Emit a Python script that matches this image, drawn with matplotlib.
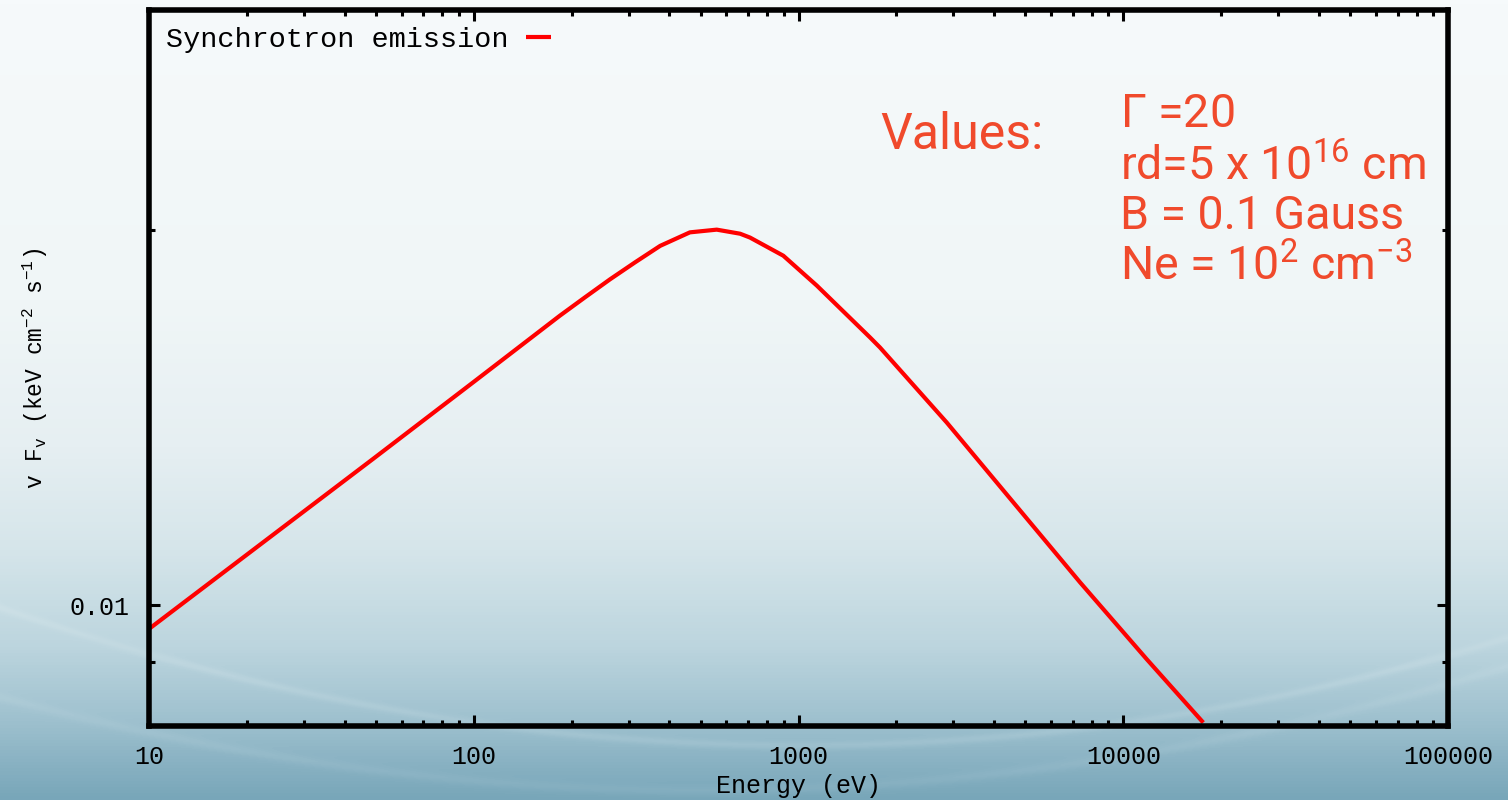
import numpy as np
import matplotlib
matplotlib.use("Agg")
import matplotlib.pyplot as plt
from matplotlib.colors import LinearSegmentedColormap
from matplotlib.ticker import LogLocator, FixedLocator, NullFormatter, FixedFormatter

# synchrotron spectrum
energy = [10, 49, 100, 184, 220, 263, 314, 375, 463, 560, 661, 709, 898, 1138,
          1661, 1782, 2860, 4585, 7360, 11810, 17640]
flux = [0.00957, 0.0131, 0.0151, 0.01706, 0.01765, 0.01825, 0.01883, 0.01941,
        0.0199, 0.0200, 0.01985, 0.01971, 0.01906, 0.01804, 0.01639,
        0.01609, 0.01401, 0.01209, 0.01043, 0.00905, 0.00805]

x_ticks = [10, 100, 1000, 10000, 100000]
x_labels = ["10", "100", "1000", "10000", "100000"]
y_ticks = [0.01]
y_labels = ["0.01"]
y_minor = [0.009, 0.02]

params = [r"$\Gamma$ =20",
          r"rd=5 x 10$^{\mathsf{16}}$ cm",
          "B = 0.1 Gauss",
          r"Ne = 10$^{\mathsf{2}}$ cm$^{\mathsf{-3}}$"]

plt.rcParams["mathtext.fontset"] = "custom"
plt.rcParams["mathtext.rm"] = "Liberation Mono"
plt.rcParams["mathtext.sf"] = "Roboto"
plt.rcParams["mathtext.default"] = "regular"

W, H = 1508, 800
fig = plt.figure(figsize=(W / 100, H / 100), dpi=100)

# background: pale gradient with a soft light swoosh
bg = fig.add_axes([0, 0, 1, 1], zorder=-5)
bg.axis("off")
stops = [(0.0, "#f6fafb"), (0.375, "#f0f6f7"), (0.56, "#e6eff2"),
         (0.69, "#d5e5ea"), (0.81, "#bcd5de"), (0.9, "#9fc1cf"), (1.0, "#78a6b9")]
cmap = LinearSegmentedColormap.from_list("bg", stops)
yy, xx = np.mgrid[0:H, 0:W]
shade = yy / (H - 1)
arc = 745 - 0.000215 * (xx - 800) ** 2
shade = shade - 0.03 * np.exp(-((yy - arc) / 4.0) ** 2) * (yy > 560)
arc2 = 790 - 0.00019 * (xx - 700) ** 2
shade = shade - 0.02 * np.exp(-((yy - arc2) / 5.0) ** 2) * (yy > 600)
bg.imshow(np.clip(shade, 0, 1), cmap=cmap, vmin=0, vmax=1, aspect="auto",
          extent=[0, 1, 0, 1], origin="upper")
bg.set_xlim(0, 1)
bg.set_ylim(0, 1)

ax = fig.add_axes([149 / W, 74 / H, (1448 - 149) / W, (726 - 10) / H])
ax.set_facecolor("none")
ax.plot(energy, flux, color="#ff0000", lw=3, label="Synchrotron emission",
        solid_capstyle="butt", solid_joinstyle="round")
ax.set_xscale("log")
ax.set_yscale("log")
ax.set_xlim(10, 100000)
ax.set_ylim(0.008, 0.03)

mono = "Liberation Mono"
ax.xaxis.set_major_locator(FixedLocator(x_ticks))
ax.xaxis.set_major_formatter(FixedFormatter(x_labels))
ax.xaxis.set_minor_locator(LogLocator(base=10, subs=np.arange(2, 10)))
ax.xaxis.set_minor_formatter(NullFormatter())
ax.yaxis.set_major_locator(FixedLocator(y_ticks))
ax.yaxis.set_major_formatter(FixedFormatter(y_labels))
ax.yaxis.set_minor_locator(FixedLocator(y_minor))
ax.yaxis.set_minor_formatter(NullFormatter())

ax.tick_params(which="both", direction="in", top=True, right=True,
               width=2.2, color="black")
ax.tick_params(which="major", length=8, labelsize=18, pad=14)
ax.tick_params(which="minor", length=4)
for lab in ax.get_xticklabels() + ax.get_yticklabels():
    lab.set_fontfamily(mono)
for s in ax.spines.values():
    s.set_linewidth(4)

ax.set_xlabel("Energy (eV)", fontsize=18, family=mono, labelpad=3)
ax.set_ylabel(r"v F$_v$ (keV cm$^{-2}$ s$^{-1}$)", fontsize=16.5,
              family=mono, labelpad=14)

ax.legend(loc="upper left", frameon=False, markerfirst=False, handlelength=0.9,
          handletextpad=0.6, borderaxespad=0.2,
          prop={"family": mono, "size": 20.5})

red = "#f04a2c"
sans = ["Roboto", "DejaVu Sans"]
fig.text(880 / W, 1 - 135 / H, "Values:", color=red, fontsize=36,
         family=sans, va="center", ha="left")
line_y = [114, 166, 216, 266]
for txt, y in zip(params, line_y):
    fig.text(1120 / W, 1 - y / H, txt, color=red, fontsize=33.5,
             family=sans, va="center", ha="left")

fig.savefig("out.png", dpi=100)
